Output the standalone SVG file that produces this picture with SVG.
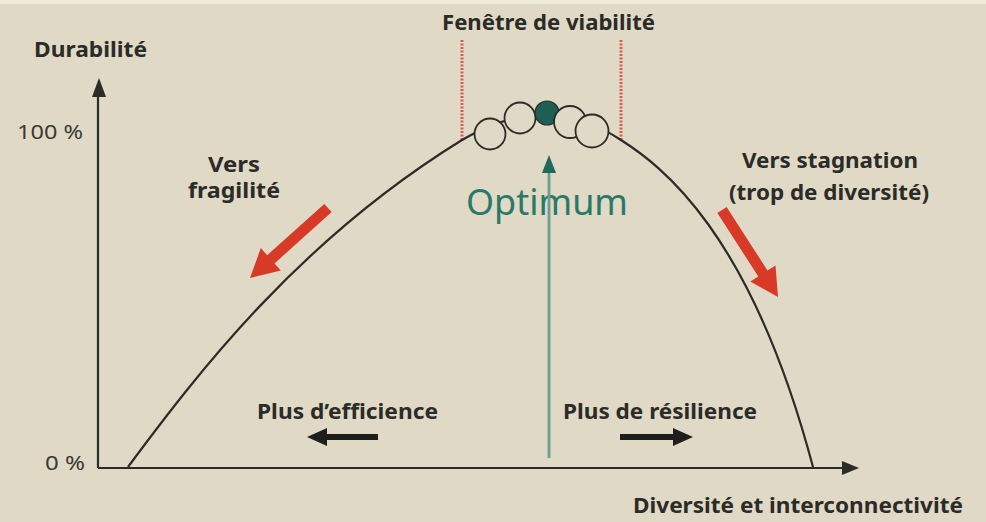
<svg xmlns="http://www.w3.org/2000/svg" width="986" height="522" viewBox="0 0 986 522">
<style>
.t{font-family:"Noto Sans","Liberation Sans",sans-serif;font-weight:700;fill:#2b2b28;font-size:21px}
.n{font-family:"Noto Sans","Liberation Sans",sans-serif;font-weight:400;fill:#3a3a36;font-size:19px}
.ax{stroke:#2b2b28;stroke-width:2.2;fill:none}
.red{fill:#d83a28}
.blk{fill:#1e1e1c}
.c{fill:#e0d9c5;stroke:#2b2b28;stroke-width:1.8}
.dash{stroke:#dd5a50;stroke-width:3;stroke-dasharray:2 1.5}
</style>
<rect x="0" y="0" width="986" height="522" fill="#e0d9c5"/>
<rect x="0" y="0" width="986" height="4" fill="#efe9d8"/>

<g id="connectors">
  <line class="ax" x1="98" y1="468" x2="98" y2="92"/>
  <polygon points="99,78 92,97 106,97" fill="#2b2b28"/>
  <line class="ax" x1="98" y1="468" x2="846" y2="468"/>
  <polygon points="859,468 842,461 842,475" fill="#2b2b28"/>
  <line class="dash" x1="462" y1="40" x2="462" y2="140"/>
  <line class="dash" x1="621" y1="40" x2="621" y2="140"/>
  <path d="M128,467 C200,370 300,240 462,140 Q545,90 621,140 C660,165 750,230 813,467" fill="none" stroke="#2b2b28" stroke-width="2.2"/>
  <polygon class="red" points="331.7,212.1 274.5,263.4 280.8,270.5 250,278 260.8,248.1 267.1,255.2 324.3,203.9"/>
  <polygon class="red" points="717.4,213 758.3,276.5 750.3,281.6 778,297 775.5,265.4 767.5,270.5 726.6,207"/>
  <polygon class="blk" points="378,434 378,440 327,440 327,446 307,437 327,428 327,434"/>
  <polygon class="blk" points="620,434 620,440 673,440 673,446 693,437 673,428 673,434"/>
</g>

<g id="optimum">
  <text x="466" y="215" font-family="'Noto Sans','Open Sans',sans-serif" font-size="36" fill="#2a7868" textLength="162" lengthAdjust="spacingAndGlyphs">Optimum</text>
  <line x1="549" y1="458" x2="549" y2="170" stroke="#6b9e90" stroke-width="2.8"/>
  <polygon points="549,155 542,173 556,173" fill="#1f6a5c"/>
</g>

<g id="window">
  <circle class="c" cx="490" cy="134" r="15.5"/>
  <circle class="c" cx="520" cy="118" r="15.5"/>
  <circle cx="547" cy="113" r="12" fill="#1f5f55" stroke="#2b2b28" stroke-width="1.2"/>
  <circle class="c" cx="570" cy="122" r="16"/>
  <circle class="c" cx="592" cy="131" r="16.5"/>
</g>

<g id="labels">
  <text class="t" x="442" y="30" textLength="213" lengthAdjust="spacingAndGlyphs">Fenêtre de viabilité</text>
  <text class="t" x="34" y="57" textLength="113" lengthAdjust="spacingAndGlyphs">Durabilité</text>
  <text class="n" x="17" y="139" textLength="66" lengthAdjust="spacingAndGlyphs">100 %</text>
  <text class="n" x="45" y="470" textLength="40" lengthAdjust="spacingAndGlyphs">0 %</text>
  <text class="t" x="208" y="172" textLength="52" lengthAdjust="spacingAndGlyphs">Vers</text>
  <text class="t" x="188" y="198" textLength="92" lengthAdjust="spacingAndGlyphs">fragilité</text>
  <text class="t" x="742" y="168" textLength="176" lengthAdjust="spacingAndGlyphs">Vers stagnation</text>
  <text class="t" x="729" y="200" textLength="200" lengthAdjust="spacingAndGlyphs">(trop de diversité)</text>
  <text class="t" x="257" y="419" textLength="181" lengthAdjust="spacingAndGlyphs">Plus d’efficience</text>
  <text class="t" x="563" y="419" textLength="194" lengthAdjust="spacingAndGlyphs">Plus de résilience</text>
  <text class="t" x="633" y="513" textLength="330" lengthAdjust="spacingAndGlyphs">Diversité et interconnectivité</text>
</g>
</svg>
